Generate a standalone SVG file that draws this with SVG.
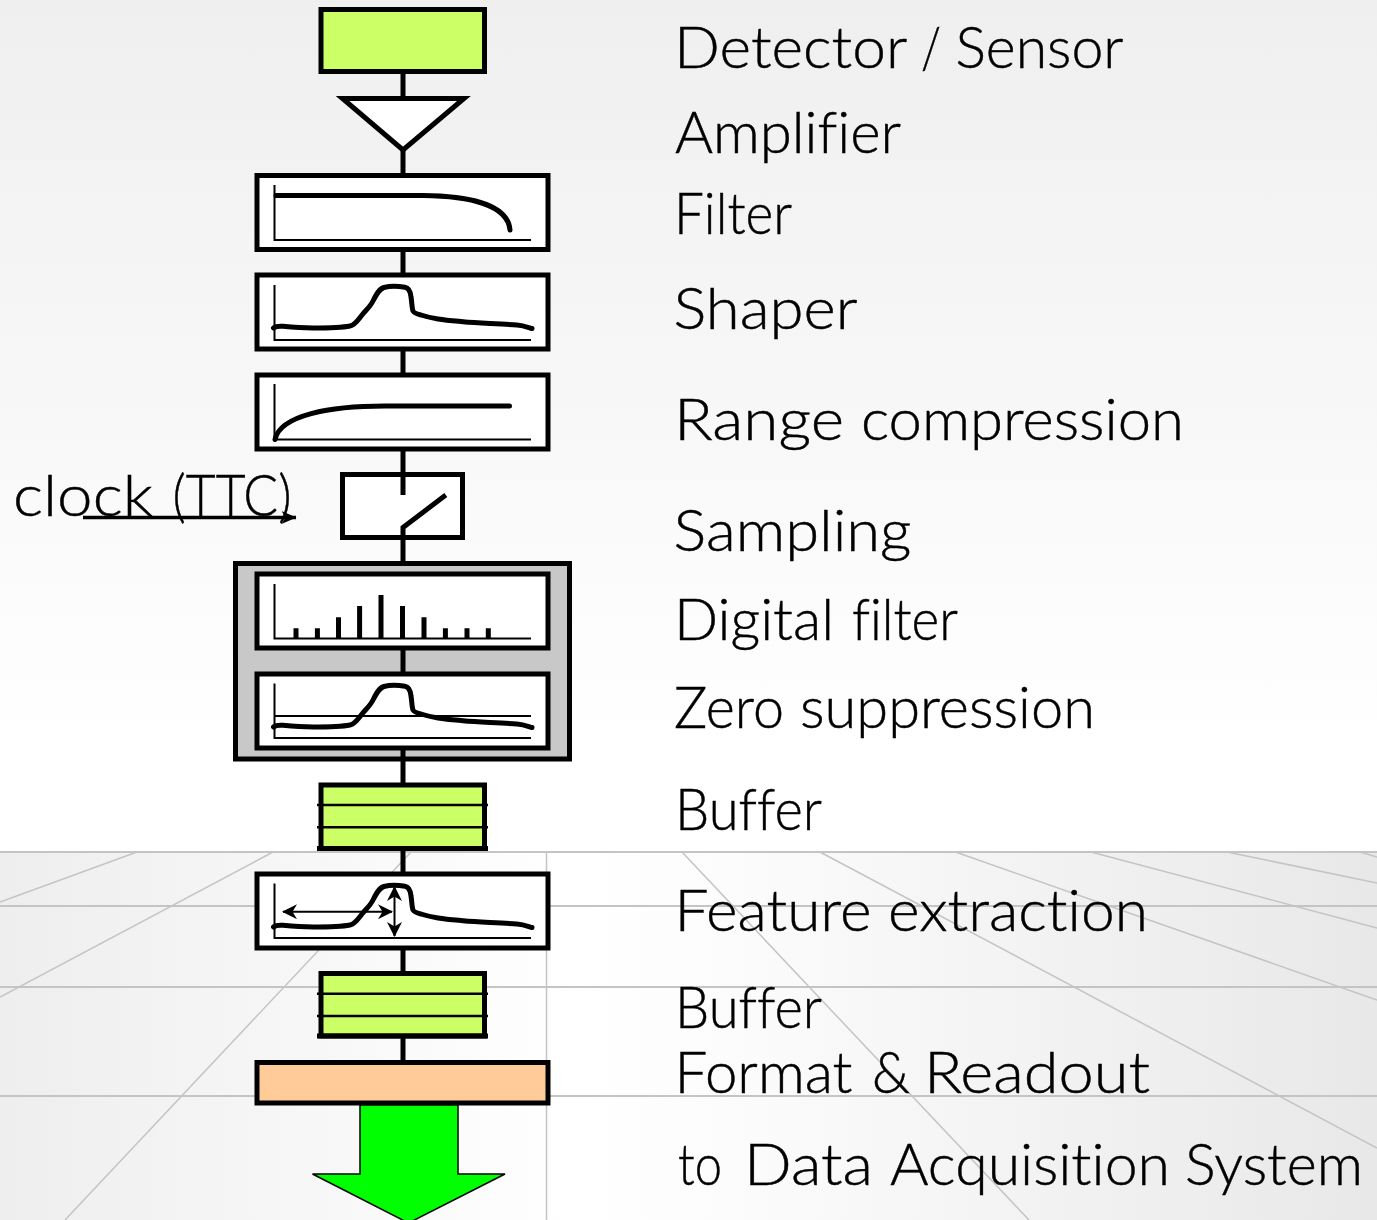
<svg xmlns="http://www.w3.org/2000/svg" xmlns:xlink="http://www.w3.org/1999/xlink" width="1377" height="1220" viewBox="0 0 1377 1220">
<style>
.box{fill:#fff;stroke:#000;stroke-width:5}
.buf{fill:#ccff66;stroke:#000;stroke-width:5}
.rule{stroke:#000;stroke-width:2.5;fill:none}
.conn{stroke:#000;stroke-width:5;fill:none}
.axis{stroke:#000;stroke-width:2;fill:none}
.curve{stroke:#000;stroke-width:5;fill:none;stroke-linecap:round;stroke-linejoin:round}
.grid{stroke:#c4c4c4;stroke-width:1.5;fill:none}
.gridh{stroke:#c4c4c4;stroke-width:2;fill:none}
.bar{stroke:#000;stroke-width:5}
.thin{stroke:#000;stroke-width:2;fill:none}
text{font-family:"Lato","Liberation Sans",sans-serif;font-weight:300;font-size:57px;fill:#000;stroke:#000;stroke-width:.45;font-variant-ligatures:none}
</style>
<defs>
<linearGradient id="sky" x1="0" y1="0" x2="0" y2="1"><stop offset="0" stop-color="#efefef"/><stop offset="0.45" stop-color="#f7f7f7"/><stop offset="0.88" stop-color="#ffffff"/><stop offset="1" stop-color="#ffffff"/></linearGradient>
<linearGradient id="floor" x1="0" y1="0" x2="1" y2="0"><stop offset="0" stop-color="#eeeeee"/><stop offset="0.2" stop-color="#f6f6f6"/><stop offset="0.42" stop-color="#ffffff"/><stop offset="0.55" stop-color="#fbfbfb"/><stop offset="1" stop-color="#e8e8e8"/></linearGradient>
<path id="pulse" d="M273.5 328 C276 326,279 326,283 326.3 C295 327.5,305 328,313 328 C325 328,340 328,350 326 C355 325,358 320,362 315 C366 310,370 307,373 301 C376 295,379 289,384 287.5 C390 286,400 286.5,405 287.3 C409 288,410.5 292,411 297 C412 303,412 309,413 311 C414 313,417 314,421 315 C427 317,432 318,438 319 C447 320.5,455 321,463 321.7 C472 322.5,481 323,490 323.5 C500 324,510 324.5,517 325 C523 325.5,527 327,532 328.5"/>
<marker id="stealth" viewBox="0 0 15 15" refX="14" refY="7.5" markerUnits="userSpaceOnUse" markerWidth="15" markerHeight="15" orient="auto-start-reverse"><path d="M0 0 L15 7.5 L0 15 L4.5 7.5 Z" fill="#000"/></marker>
<marker id="clk" viewBox="0 0 15 13" refX="14.5" refY="6.5" markerUnits="userSpaceOnUse" markerWidth="15" markerHeight="13" orient="auto"><path d="M0 0 L15 6.5 L0 13 L4 6.5 Z" fill="#000"/></marker>
</defs>

<g id="background">
<rect x="0" y="0" width="1377" height="852" fill="url(#sky)"/>
<rect x="0" y="852" width="1377" height="368" fill="url(#floor)"/>
<path class="gridh" d="M0 852H1377M0 906H1377M0 987H1377M0 1096H1377"/>
<path class="grid" d="M546.5 852V1220M137 852L0 902M273 852L0 997M411 852L65 1220M682 852L1029 1220M820 852L1377 1148M955.5 852L1377 1000M1091 852L1377 928M1227 852L1377 883M1360 852L1377 857"/>
</g>

<g id="group-box"><rect x="235.5" y="563.5" width="334" height="195.5" fill="#c8c8c8" stroke="#000" stroke-width="5"/></g>

<g id="connectors">
<path class="conn" d="M403 72V97M403 149V175M403 250V275M403 350V375M403 450V475M403 537V563M403 649V674M403 749V785M403 849V874M403 949V973M403 1037V1062"/>
</g>

<g id="detector"><rect class="buf" x="321" y="9.5" width="163.5" height="62"/></g>
<g id="amplifier"><polygon points="342.5,98.5 464,98.5 403,150" fill="#fff" stroke="#000" stroke-width="5"/></g>

<g id="filter"><rect class="box" x="257" y="175.5" width="291" height="74"/>
<path class="axis" d="M274.5 185V240H531"/>
<path class="curve" d="M276 195.5H423C470 196,508 205,510 230"/></g>

<g id="shaper"><rect class="box" x="257" y="275" width="291" height="74"/>
<path class="axis" d="M274.5 285V340H531"/>
<use xlink:href="#pulse" href="#pulse" class="curve"/></g>

<g id="range-compression"><rect class="box" x="257" y="375" width="291" height="74"/>
<path class="axis" d="M274.5 384V439.5H531"/>
<path class="curve" stroke-linecap="butt" d="M275 439.5C280 415,330 406,385 406H509.5"/></g>

<g id="sampling"><rect class="box" x="342.5" y="474.5" width="120" height="63"/>
<path class="conn" d="M403 474V495M403 537V527.5L445.8 495"/></g>

<g id="digital-filter"><rect class="box" x="257" y="574" width="291" height="74"/>
<path class="axis" d="M274.5 584V638.5H531"/>
<path class="bar" d="M296 638V628.3M317.4 638V628.3M338.5 638V617.3M359.6 638V606M381 638V595M402.5 638V606M424 638V617.3M445.4 638V628.3M467 638V628.3M488.3 638V628.3"/></g>

<g id="zero-suppression"><rect class="box" x="257" y="674" width="291" height="74"/>
<path class="axis" d="M274.5 683.5V738H531M274.5 716H531"/>
<use xlink:href="#pulse" href="#pulse" class="curve" transform="translate(0 399)"/></g>

<g id="buffer-1"><rect class="buf" x="321" y="785" width="163.5" height="63.5"/>
<path class="rule" d="M317 805H488M317 827.3H488"/>
<path class="conn" d="M317 848.5H488"/></g>

<g id="feature-extraction"><rect class="box" x="257" y="874" width="291" height="74"/>
<path class="axis" d="M274.5 883.5V938H531"/>
<use xlink:href="#pulse" href="#pulse" class="curve" transform="translate(0 599)"/>
<path class="thin" marker-start="url(#stealth)" marker-end="url(#stealth)" d="M283 911.7H392"/>
<path class="thin" marker-start="url(#stealth)" marker-end="url(#stealth)" d="M394.5 887V936"/></g>

<g id="buffer-2"><rect class="buf" x="321" y="973.5" width="163.5" height="62.5"/>
<path class="rule" d="M317 993.7H488M317 1016H488"/>
<path class="conn" d="M317 1036H488"/></g>

<g id="format-readout"><rect x="257" y="1062.5" width="291" height="40.5" fill="#ffcc99" stroke="#000" stroke-width="5"/></g>

<g id="output-arrow"><polygon points="360,1105 458,1105 458,1174 505,1174 408.5,1223 312.5,1174 360,1174" fill="#00ff00" stroke="#000" stroke-width="1.5"/></g>

<g id="labels">
<text y="67.5"><tspan x="674" textLength="232" lengthAdjust="spacingAndGlyphs">Detector</tspan> <tspan x="921" textLength="20" lengthAdjust="spacingAndGlyphs">/</tspan> <tspan x="955.5" textLength="168" lengthAdjust="spacingAndGlyphs">Sensor</tspan></text>
<text x="675" y="152.5" textLength="226" lengthAdjust="spacingAndGlyphs">Amplifier</text>
<text x="674" y="233.5" textLength="118" lengthAdjust="spacingAndGlyphs">Filter</text>
<text x="673.5" y="328.5" textLength="184" lengthAdjust="spacingAndGlyphs">Shaper</text>
<text y="440"><tspan x="674" textLength="170" lengthAdjust="spacingAndGlyphs">Range</tspan> <tspan x="861" textLength="323" lengthAdjust="spacingAndGlyphs">compression</tspan></text>
<text x="673.5" y="551" textLength="238" lengthAdjust="spacingAndGlyphs">Sampling</text>
<text y="640"><tspan x="674" textLength="160" lengthAdjust="spacingAndGlyphs">Digital</tspan> <tspan x="852" textLength="106" lengthAdjust="spacingAndGlyphs">filter</tspan></text>
<text y="727.5"><tspan x="674" textLength="110" lengthAdjust="spacingAndGlyphs">Zero</tspan> <tspan x="800" textLength="295" lengthAdjust="spacingAndGlyphs">suppression</tspan></text>
<text x="675" y="829.5" textLength="147" lengthAdjust="spacingAndGlyphs">Buffer</text>
<text y="931"><tspan x="674.5" textLength="197" lengthAdjust="spacingAndGlyphs">Feature</tspan> <tspan x="888" textLength="260" lengthAdjust="spacingAndGlyphs">extraction</tspan></text>
<text x="675" y="1027.5" textLength="147" lengthAdjust="spacingAndGlyphs">Buffer</text>
<text y="1092.5"><tspan x="674.5" textLength="178" lengthAdjust="spacingAndGlyphs">Format</tspan> <tspan x="872" textLength="38" lengthAdjust="spacingAndGlyphs">&amp;</tspan> <tspan x="924" textLength="226" lengthAdjust="spacingAndGlyphs">Readout</tspan></text>
<text y="1184.5"><tspan x="678" textLength="44" lengthAdjust="spacingAndGlyphs">to</tspan> <tspan x="744" textLength="129" lengthAdjust="spacingAndGlyphs">Data</tspan> <tspan x="890" textLength="280" lengthAdjust="spacingAndGlyphs">Acquisition</tspan> <tspan x="1185" textLength="178" lengthAdjust="spacingAndGlyphs">System</tspan></text>
<text y="516"><tspan x="13" textLength="140" lengthAdjust="spacingAndGlyphs">clock</tspan> <tspan x="172.5" textLength="119" lengthAdjust="spacingAndGlyphs">(TTC)</tspan></text>
</g>

<g id="clock-connector"><path stroke="#000" stroke-width="3.5" fill="none" marker-end="url(#clk)" d="M83 517.5H296"/></g>
</svg>
